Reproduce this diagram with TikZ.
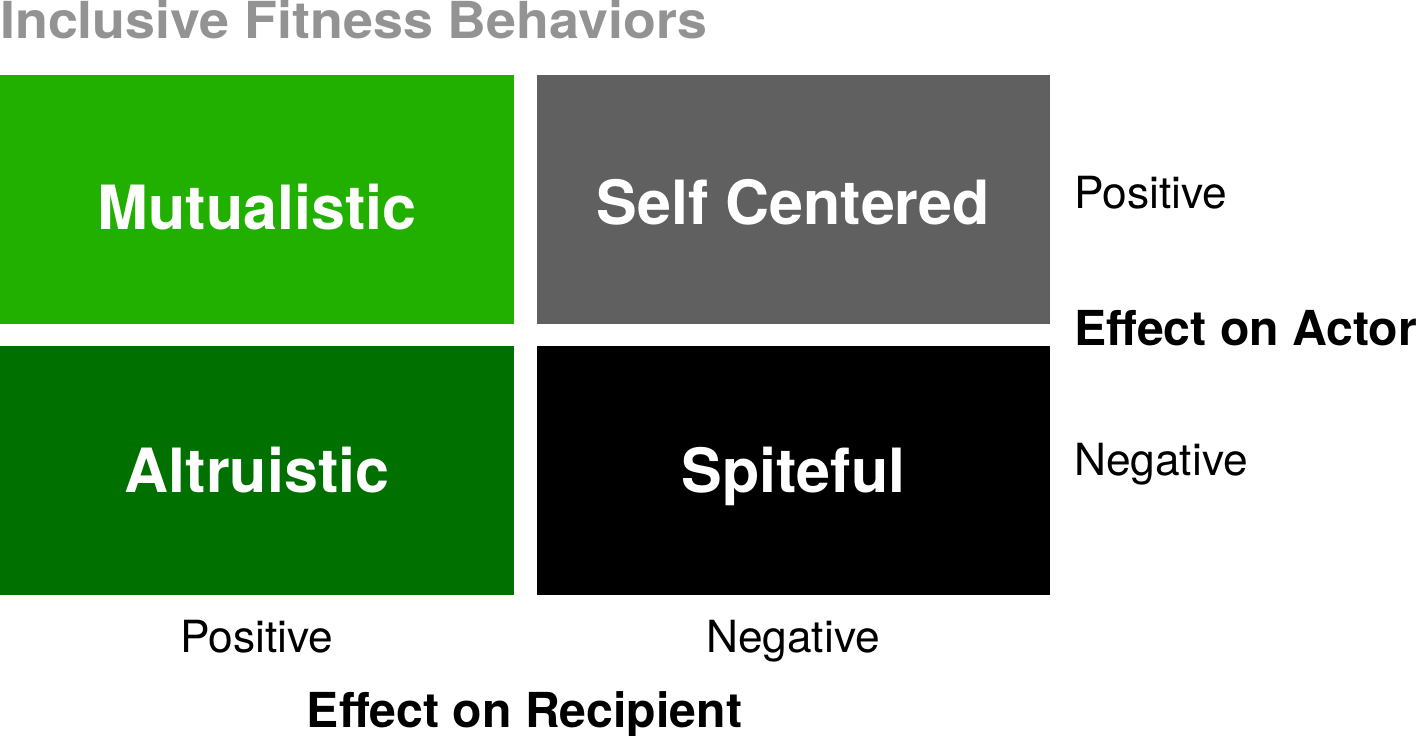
\documentclass[tikz,border=0pt]{standalone}
\usepackage{fontspec}
\setmainfont{TeX Gyre Heros}
\definecolor{mutgreen}{HTML}{21B000}
\definecolor{altgreen}{HTML}{007000}
\definecolor{selfgray}{HTML}{606060}
\definecolor{titlegray}{HTML}{939393}
\tikzset{
  quad/.style={rectangle, draw=none, inner sep=0pt, outer sep=0pt, minimum width=514pt, minimum height=249pt},
  quadlabel/.style={anchor=base, inner sep=0pt, text=white, font=\fontsize{61}{72}\selectfont\bfseries},
  axislabel/.style={inner sep=0pt, text=black, font=\fontsize{44.3}{52}\selectfont},
  axistitle/.style={inner sep=0pt, text=black, font=\fontsize{48.2}{57}\selectfont\bfseries},
  titletext/.style={anchor=base west, inner sep=0pt, text=titlegray, font=\fontsize{51}{60}\selectfont\bfseries}
}
\begin{document}
\begin{tikzpicture}[x=1pt,y=-1pt]
\useasboundingbox (0,0) rectangle (1417,736);
\node[titletext] (title) at (0,38) {\scalebox{1.055}[1]{Inclusive Fitness Behaviors}};
\node[quad, fill=mutgreen, minimum width=514pt] (mut) at (257,199.5) {};
\node[quad, fill=selfgray, minimum width=513pt] (self) at (793.5,199.5) {};
\node[quad, fill=altgreen, minimum width=514pt] (alt) at (257,470.5) {};
\node[quad, fill=black, minimum width=513pt] (spite) at (793.5,470.5) {};
\node[quadlabel] (mutT) at (257,229) {Mutualistic};
\node[quadlabel] (selfT) at (793.5,224) {Self Centered};
\node[quadlabel] (altT) at (257,492) {Altruistic};
\node[quadlabel] (spiteT) at (793.5,492) {Spiteful};
\node[axislabel, anchor=base west] (aPos) at (1074,208) {Positive};
\node[axistitle, anchor=base west] (aTitle) at (1074,345) {Effect on Actor};
\node[axislabel, anchor=base west] (aNeg) at (1074,475) {Negative};
\node[axislabel, anchor=base] (rPos) at (257,652) {Positive};
\node[axislabel, anchor=base] (rNeg) at (793,652) {Negative};
\node[axistitle, anchor=base] (rTitle) at (524.5,727) {Effect on Recipient};
\end{tikzpicture}
\end{document}
